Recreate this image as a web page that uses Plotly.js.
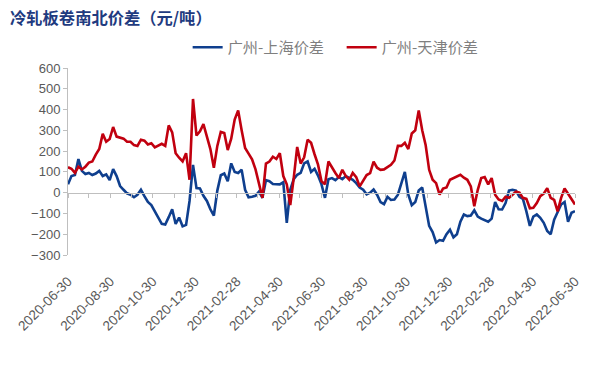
<!DOCTYPE html>
<html>
<head>
<meta charset="utf-8">
<script src="https://cdn.plot.ly/plotly-3.0.1.min.js"></script>
<style>
html,body{margin:0;padding:0;background:#fff;}
#chart{width:606px;height:380px;}
</style>
</head>
<body>
<div id="chart"></div>
<script>
// Series sampled every 5 days from 2020-06-30 to 2022-06-30
const startDate = '2020-06-30';
const stepDays = 5;

const gzShanghai = [
  40, 80, 85, 162, 105, 90, 95, 85, 92, 105,
  80, 88, 60, 113, 80, 32, 14, -3, -10, -22,
  -10, 14, -17, -45, -60, -93, -120, -150, -153, -118,
  -80, -150, -120, -162, -155, -40, 134, 22, 20, -15,
  -40, -80, -110, 10, 84, 92, 55, 141, 100, 95,
  110, 14, -22, -20, -15, 5, -25, 60, 55, 42,
  40, 40, 50, -145, 14, 65, 86, 95, 141, 150,
  100, 115, 82, 40, -25, 65, 70, 60, 75, 65,
  80, 72, 62, 46, 25, 14, -8, 0, 15, -10,
  -45, -55, -20, -35, -33, -10, 40, 100, -10, -60,
  -45, 10, 25, -60, -160, -190, -240, -228, -232, -200,
  -178, -215, -200, -140, -105, -113, -110, -85, -115, -125,
  -132, -140, -125, -45, -80, -81, -50, 10, 14, 10,
  -20, -30, -90, -160, -115, -105, -121, -145, -184, -200,
  -130, -95, -57, -45, -140, -97, -89
];

const gzTianjin = [
  122, 115, 95, 125, 112, 125, 145, 150, 183, 210,
  283, 245, 258, 316, 270, 265, 260, 245, 245, 229,
  225, 255, 250, 232, 238, 218, 225, 235, 225, 324,
  290, 190, 168, 150, 190, 62, 451, 275, 295, 330,
  270, 210, 120, 225, 292, 287, 205, 260, 352, 396,
  300, 215, 188, 160, 112, 45, -25, 140, 150, 173,
  162, 190, 80, 40, -60, 70, 220, 140, 170, 255,
  240, 185, 135, 55, 40, 150, 120, 95, 70, 110,
  80, 62, 95, 75, 30, 58, 85, 94, 149, 120,
  110, 112, 122, 134, 155, 225, 225, 240, 210, 285,
  300, 396, 300, 228, 110, 62, 46, -10, 20, 25,
  62, 70, 78, 86, 72, 62, 30, -65, 14, 70,
  75, 40, 70, -10, -33, -40, -20, -25, -10, 5,
  0, -25, -30, -75, -73, -50, -17, -5, 22, -25,
  -35, -90, -25, 20, -5, -33, -57
];

const labelDates = ['2020-06-30','2020-08-30','2020-10-30','2020-12-30','2021-02-28','2021-04-30',
  '2021-06-30','2021-08-30','2021-10-30','2021-12-30','2022-02-28','2022-04-30','2022-06-30'];
const monthTicks = ['2020-06-30','2020-07-30','2020-08-30','2020-09-30','2020-10-30','2020-11-30',
  '2020-12-30','2021-01-30','2021-02-28','2021-03-30','2021-04-30','2021-05-30','2021-06-30',
  '2021-07-30','2021-08-30','2021-09-30','2021-10-30','2021-11-30','2021-12-30','2022-01-30',
  '2022-02-28','2022-03-30','2022-04-30','2022-05-30','2022-06-30'];

const seriesNames = ['广州-上海价差', '广州-天津价差'];
const colors = ['#0f3f8e', '#c1000f'];

function buildDates(n){
  const out = [];
  const t0 = Date.parse(startDate + 'T00:00:00Z');
  for (let i = 0; i < n; i++) {
    out.push(new Date(t0 + i * stepDays * 86400000).toISOString().slice(0,10));
  }
  return out;
}
const dates = buildDates(gzShanghai.length);

const xr = ['2020-06-30', '2022-06-30'];
const grey = '#595959';

// Both x axes share the same date range: x carries the zero-line axis with monthly ticks,
// x2 carries the rotated date labels along the bottom.
const traces = [
  {x: dates, y: gzShanghai, name: seriesNames[0], type: 'scatter', mode: 'lines',
   line: {color: colors[0], width: 2.6}, xaxis: 'x', yaxis: 'y'},
  {x: dates, y: gzTianjin, name: seriesNames[1], type: 'scatter', mode: 'lines',
   line: {color: colors[1], width: 2.6}, xaxis: 'x2', yaxis: 'y'}
];

const layout = {
  width: 606, height: 380,
  margin: {l: 68, r: 31, t: 68, b: 125},
  paper_bgcolor: '#fff', plot_bgcolor: '#fff',
  font: {family: 'Liberation Sans, Arial, sans-serif', color: grey, size: 12},
  title: {text: '冷轧板卷南北价差（元/吨）', xref: 'container', yref: 'container',
          x: 10/606, xanchor: 'left', y: 1 - 18/380, yanchor: 'middle',
          font: {family: 'Noto Sans CJK SC', size: 16.3, color: '#1f3b80', weight: 'bold'}},
  showlegend: true,
  legend: {orientation: 'h', x: 0.236, xanchor: 'left', y: 1.11, yanchor: 'middle',
           font: {family: 'Noto Sans CJK SC', size: 15.2, color: '#7f7f7f'},
           entrywidth: 109, entrywidthmode: 'pixels',
           itemwidth: 30, bgcolor: 'rgba(0,0,0,0)', traceorder: 'normal'},
  xaxis: {type: 'date', range: xr, anchor: 'free', position: 1/3,
          showline: true, linecolor: '#bfbfbf', linewidth: 1,
          ticks: 'outside', ticklen: 4, tickcolor: '#bfbfbf',
          tickmode: 'array', tickvals: monthTicks, showticklabels: false,
          showgrid: false, zeroline: false},
  xaxis2: {type: 'date', range: xr, overlaying: 'x', anchor: 'y', side: 'bottom',
           showline: false, ticks: 'outside', ticklen: 12, tickcolor: 'rgba(0,0,0,0)',
           tickmode: 'array', tickvals: labelDates, ticktext: labelDates,
           tickangle: -45, tickfont: {size: 13.6, color: grey},
           showgrid: false, zeroline: false},
  yaxis: {range: [-300, 600], tickmode: 'linear', tick0: -300, dtick: 100,
          showline: true, linecolor: '#bfbfbf', linewidth: 1,
          ticks: 'outside', ticklen: 4, tickcolor: '#bfbfbf',
          tickfont: {size: 13, color: grey},
          showgrid: false, zeroline: false}
};

Plotly.newPlot('chart', traces, layout, {displayModeBar: false, staticPlot: true});
</script>
</body>
</html>
